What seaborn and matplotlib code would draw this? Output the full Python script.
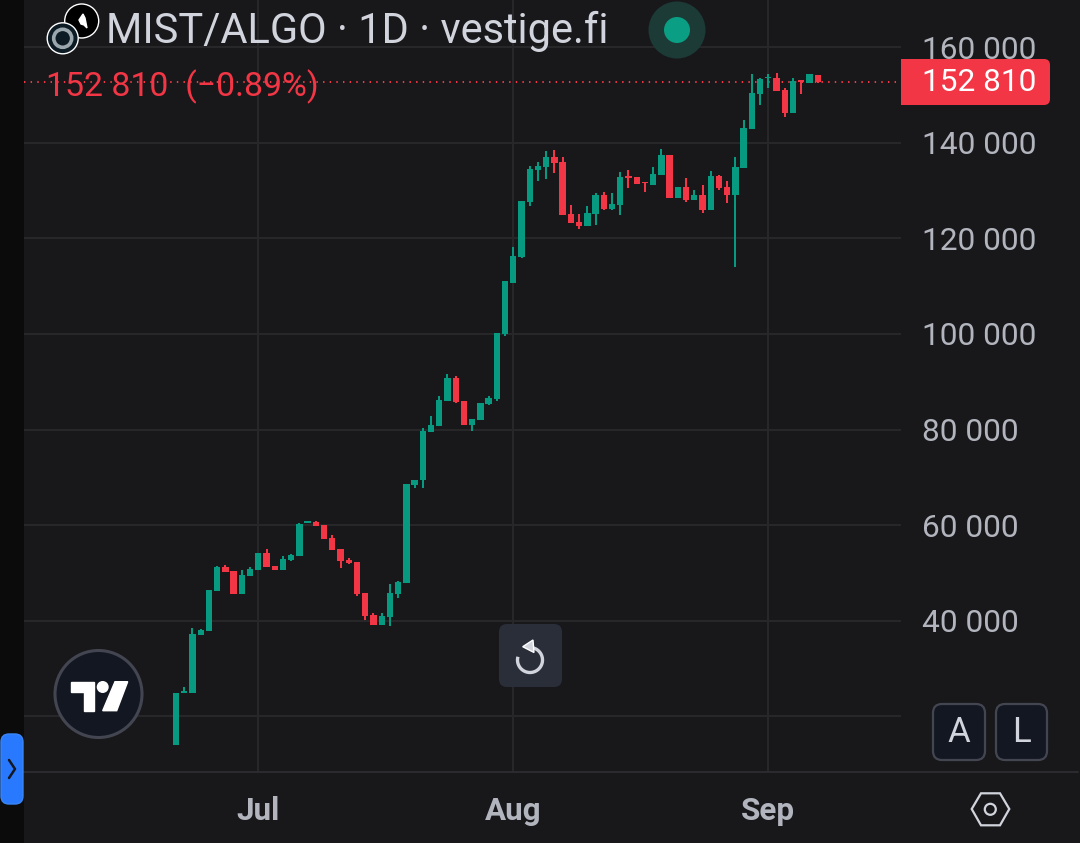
import numpy as np
import pandas as pd
import matplotlib
matplotlib.use("Agg")
import matplotlib.pyplot as plt
from matplotlib.patches import Circle, FancyBboxPatch, Polygon, Rectangle
from matplotlib.lines import Line2D
import seaborn as sns

# ---- data, one candle per day from 21 Jun
days = list(range(79))
opens = [13980, 24860, 24928, 36991, 37897, 46265, 51216, 50380, 45568, 49334,
         50589, 54145, 51425, 50589, 52680, 53517, 60421, 60630, 60002, 57283,
         54982, 52680, 52262, 45777, 41175, 39083, 40757, 45568, 47939, 68370,
         69416, 79529, 80715, 85944, 90757, 85944, 80924, 81971, 85317, 86364,
         99961, 110630, 116069, 127574, 134268, 134896, 136988, 135942, 125064, 123390,
         122554, 125064, 129038, 126110, 126947, 133013, 132805, 131758, 131130, 133222,
         137406, 128411, 130712, 127992, 129038, 125901, 133013, 130712, 129038, 134687,
         142846, 150168, 153515, 153515, 151004, 146193, 153096, 152469, 154142]
closes = [24928, 25276, 37200, 38037, 46405, 51286, 50170, 45568, 49543, 50798,
          54145, 51216, 50589, 52890, 53727, 60211, 60839, 59793, 57074, 54772,
          52471, 52123, 45568, 40966, 39083, 40966, 45777, 48079, 68580, 69416,
          79667, 80924, 86154, 90757, 85735, 80924, 82180, 85526, 86573, 100170,
          111048, 116278, 127784, 134477, 135105, 136988, 135733, 124855, 123181, 122554,
          125273, 129038, 126110, 127156, 132805, 132595, 131340, 131549, 133432, 137406,
          128411, 130712, 127992, 129038, 125901, 133013, 130503, 129038, 134896, 143055,
          150377, 153305, 153724, 150795, 146193, 152887, 152678, 154351, 152810]
highs = [24928, 26113, 38456, 38246, 46405, 51495, 51634, 50380, 50589, 51216,
         54145, 54982, 51425, 53517, 53936, 60421, 60839, 60839, 60002, 57910,
         54982, 53099, 52262, 45777, 41593, 41593, 47660, 48288, 68580, 69416,
         80293, 82806, 86990, 91593, 91175, 85944, 82180, 85526, 86990, 100170,
         111048, 118160, 127784, 135105, 135942, 138243, 138452, 136988, 126947, 125064,
         126738, 129457, 129666, 129457, 133850, 134268, 132805, 131758, 134896, 138661,
         137406, 130712, 132595, 130085, 131130, 134059, 133222, 131967, 136988, 144728,
         154351, 153515, 154351, 154560, 151423, 153515, 153096, 154351, 154142]
lows = [13980, 24860, 24928, 36991, 37897, 46265, 50170, 45568, 45568, 49334,
        50589, 51216, 50589, 50589, 52471, 53517, 60421, 59793, 57074, 54772,
        51007, 51844, 45150, 40129, 39083, 39083, 38874, 44731, 47939, 67744,
        67744, 79529, 80715, 85944, 85526, 80924, 79669, 81971, 85108, 85944,
        99542, 110630, 115859, 126738, 131967, 132386, 133641, 124855, 123181, 121926,
        122554, 122763, 125901, 125901, 124855, 130503, 131340, 129666, 131130, 133222,
        128411, 128411, 127574, 127992, 125273, 125901, 130085, 127365, 113976, 134687,
        142846, 147866, 151423, 150795, 145356, 146193, 150168, 152469, 152469]
y_ticks = [20000, 40000, 60000, 80000, 100000, 120000, 140000, 160000]
y_labels = ["", "40 000", "60 000", "80 000", "100 000", "120 000", "140 000", "160 000"]
x_ticks = [10, 41, 72]
x_labels = ["Jul", "Aug", "Sep"]
last_price = 152810
title = "MIST/ALGO · 1D · vestige.fi"
change_text = "152 810  (−0.89%)"

BG = "#18181b"
GRID = "#27272a"
UP = "#089981"
DOWN = "#f23645"
TICK = "#b2b5be"
TITLE = "#d1d4dc"
W, H = 1080, 843

sns.set_theme(style="dark")
plt.rcParams["font.family"] = ["Roboto", "DejaVu Sans"]
plt.rcParams["axes.unicode_minus"] = False

df = pd.DataFrame({"day": days, "open": opens, "close": closes, "high": highs, "low": lows})
df["up"] = df["close"] >= df["open"]
df["bottom"] = df[["open", "close"]].min(axis=1)
df["height"] = (df["close"] - df["open"]).abs()

fig = plt.figure(figsize=(W / 100, H / 100), dpi=100, facecolor=BG)
ax = fig.add_axes([24 / W, 1 - 772 / H, (901 - 24) / W, 772 / H], facecolor=BG)

# wicks
wicks = pd.concat([
    df[["day", "up"]].assign(price=df["low"]),
    df[["day", "up"]].assign(price=df["high"]),
])
sns.lineplot(data=wicks, x="day", y="price", units="day", estimator=None, hue="up",
             palette={True: UP, False: DOWN}, lw=1.45, legend=False, ax=ax,
             solid_capstyle="butt", zorder=3)
# bodies
for is_up, colour in [(True, UP), (False, DOWN)]:
    sub = df[df["up"] == is_up].sort_values("day")
    sns.barplot(data=sub, x="day", y="height", native_scale=True, width=0.77,
                color=colour, saturation=1, errorbar=None, bottom=sub["bottom"].to_numpy(),
                linewidth=0, ax=ax, zorder=4)

ax.axhline(last_price, color=DOWN, lw=1.45, dashes=(0.7, 2.6), zorder=2)

ax.set_xlim(-18.48, 88.13)
ax.set_ylim(8368, 169874)
ax.set_xlabel("")
ax.set_ylabel("")
ax.set_axisbelow(True)
ax.grid(True, axis="both", color=GRID, lw=1.5)
for s in ax.spines.values():
    s.set_visible(False)
ax.yaxis.tick_right()
ax.set_yticks(y_ticks, y_labels, fontsize=22.8, color=TICK)
ax.set_xticks(x_ticks, x_labels, fontsize=22.6, fontweight="bold", color=TICK)
ax.tick_params(axis="y", length=0, pad=15.2)
ax.tick_params(axis="x", length=0, pad=17)

# ---- overlay in pixel coordinates for the interface furniture
ov = fig.add_axes([0, 0, 1, 1], facecolor="none")
ov.set_xlim(0, W)
ov.set_ylim(H, 0)
ov.axis("off")


def rbox(x0, y0, x1, y1, r, fc, ec="none", lw=0, z=5):
    ov.add_patch(FancyBboxPatch((x0 + r, y0 + r), x1 - x0 - 2 * r, y1 - y0 - 2 * r,
                                boxstyle=f"round,pad={r},rounding_size={r}",
                                fc=fc, ec=ec, lw=lw, zorder=z))


ov.add_patch(Rectangle((0, 0), 24, H, fc="#0b0b0b", ec="none", zorder=1))
ov.add_line(Line2D([24, 1078], [772, 772], color="#2c2c30", lw=1.4, zorder=1))

# header
ov.add_patch(Circle((81.7, 21), 17, fc="#000000", zorder=5))
ov.add_patch(Polygon([(79, 20), (83, 14), (85, 18), (87, 28), (84, 25), (81, 24)], fc="white", zorder=6))
ov.add_patch(Circle((62.7, 38.3), 15.5, fc="#0d1b24", zorder=7))
ov.add_patch(Circle((62.7, 38.3), 9, fc="none", ec="#9aa7ad", lw=2.6, zorder=8))
ov.text(106, 31, title, fontsize=30, color=TITLE, va="center", ha="left", zorder=9)
ov.text(46, 87, change_text, fontsize=24.4, color=DOWN, va="center", ha="left", zorder=9)
ov.add_patch(Circle((677, 30), 28.5, fc="#1c3a36", ec="none", zorder=5))
ov.add_patch(Circle((677, 30), 13, fc="#0a9f85", ec="none", zorder=6))

# price label
rbox(901, 59, 1050, 105, 6, DOWN)
ov.add_patch(Rectangle((901, 59), 10, 46, fc=DOWN, ec="none", zorder=5))
ov.text(979, 82.5, "152 810", fontsize=22.8, color="white", va="center", ha="center", zorder=6)

# undo button
rbox(499, 624, 562, 687, 8, "#2a2e39")
th = np.deg2rad(np.linspace(-85, 195, 60))
ov.plot(530 + 12.5 * np.cos(th), 660 + 12.5 * np.sin(th), color=TITLE, lw=2.4, zorder=6,
        solid_capstyle="butt")
ov.add_patch(Polygon([(522.7, 646.7), (533, 640), (534, 652.5)], fc=TITLE, zorder=6))

# TradingView badge
ov.add_patch(Circle((98.5, 694), 43.5, fc="#131722", ec="#434651", lw=2.2, zorder=5))
ov.add_patch(Polygon([(71, 681.7), (94.3, 681.7), (94.3, 710.7), (84, 710.7), (84, 692.3), (71, 692.3)],
                     fc="white", zorder=6))
ov.add_patch(Circle((102.7, 687), 5.3, fc="white", zorder=6))
ov.add_patch(Polygon([(115, 681.7), (127.7, 681.7), (116.7, 710.7), (102.7, 710.7)], fc="white", zorder=6))

# blue tab
rbox(1, 734, 23, 804, 8, "#2979ff", ec="#3a86f5", lw=1)
ov.add_line(Line2D([9, 15, 9], [760, 769, 778], color="#131722", lw=1.8, zorder=6))

# A / L buttons
for x0, x1, s in [(933, 985, "A"), (996, 1047, "L")]:
    rbox(x0, 704, x1, 760, 9, "#131722", ec="#434651", lw=1.6)
    ov.text((x0 + x1) / 2, 733, s, fontsize=25, color=TITLE, va="center", ha="center", zorder=6)

# settings hexagon
ov.add_patch(Polygon([(971.7, 809), (981, 793.3), (1000, 793.3), (1009.3, 809), (1000, 825.3), (981, 825.3)],
                     fc="none", ec=TITLE, lw=1.6, zorder=6))
ov.add_patch(Circle((990.3, 809.3), 5.5, fc="none", ec=TITLE, lw=1.6, zorder=6))

fig.savefig("out.png", dpi=100, facecolor=BG)
